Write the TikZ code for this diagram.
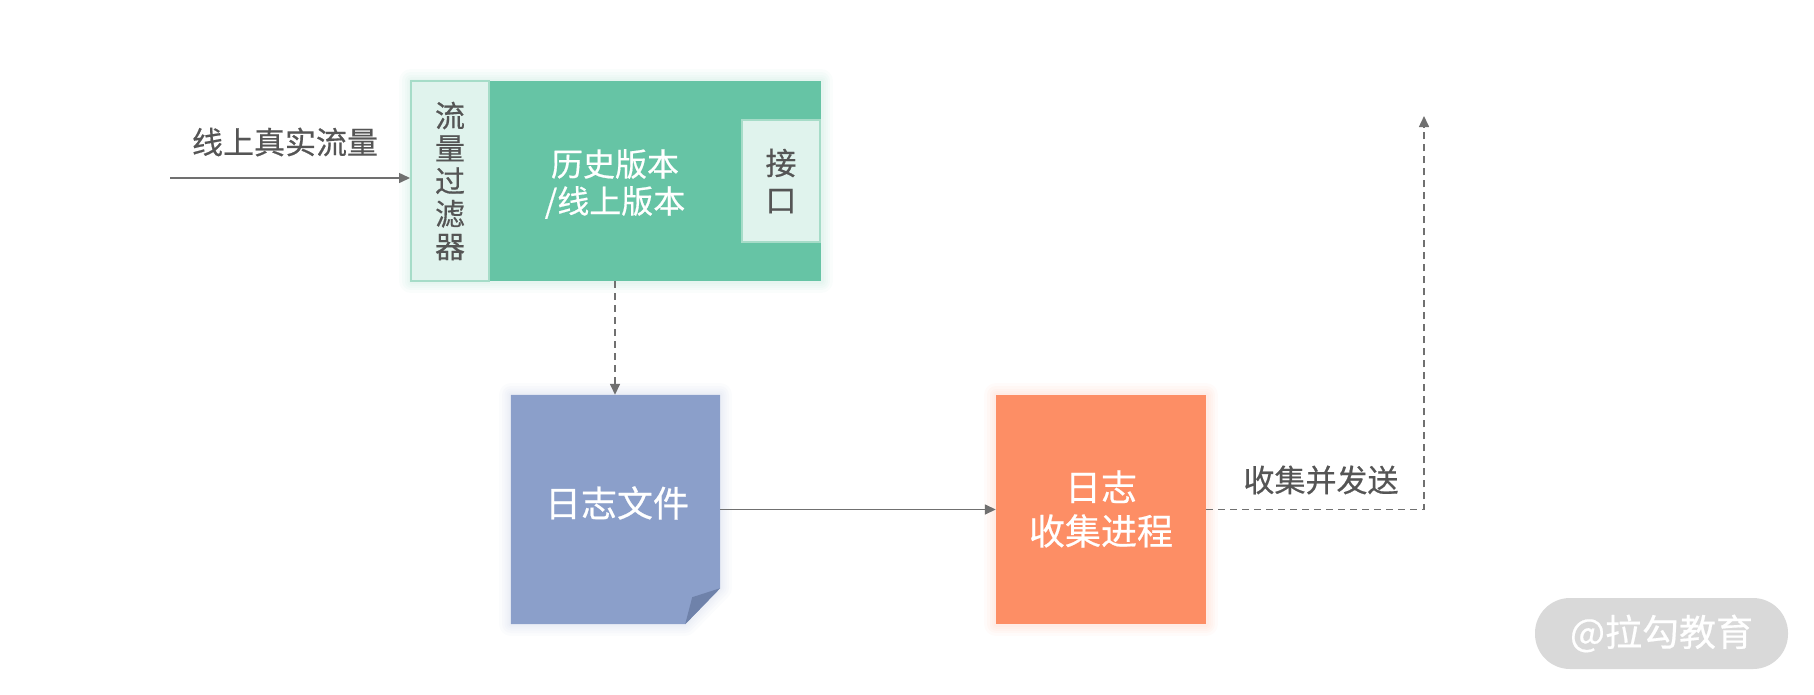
\documentclass[tikz,border=0pt]{standalone}
\usepackage{fontspec}
\setmainfont{Noto Sans CJK SC}[FakeBold=0.5]
\usetikzlibrary{arrows.meta,calc}
\definecolor{gmain}{HTML}{66C4A5}
\definecolor{gpale}{HTML}{E0F3ED}
\definecolor{gline}{HTML}{A6DCC8}
\definecolor{dblue}{HTML}{8B9FCA}
\definecolor{dfold}{HTML}{6F82AA}
\definecolor{orng}{HTML}{FD8E65}
\definecolor{txtgray}{HTML}{555555}
\definecolor{lngray}{HTML}{707070}
\definecolor{wmgray}{HTML}{D9D9D9}
\tikzset{
  lbl/.style={text=txtgray, font=\fontsize{31}{36}\selectfont, inner sep=0pt},
  wtxt/.style={text=white, align=center, inner sep=0pt},
  palebox/.style={fill=gpale, draw=gline, line width=2pt, text=txtgray, align=center, inner sep=0pt},
  conn/.style={draw=lngray, line width=1.5pt, -{Triangle[length=11pt,width=10pt]}},
  dconn/.style={conn, dash pattern=on 7pt off 5pt},
  glow/.style={line join=round, draw=#1, draw opacity=0.035},
}
\begin{document}
\begin{tikzpicture}[x=1pt,y=-1pt]
\useasboundingbox (0,0) rectangle (1814,694);
% soft glows
\foreach \w in {24,18,13,9,5}{
  \draw[glow=gmain, line width=\w pt] (411,81) rectangle (821,281);
  \draw[glow=dblue, line width=\w pt] (511,395) -- (720,395) -- (720,588) -- (685,624) -- (511,624) -- cycle;
  \draw[glow=orng, line width=\w pt] (996,395) rectangle (1206,624);
}
% green main block
\node[fill=gmain, minimum width=332pt, minimum height=200pt, inner sep=0pt] (core) at (655,181) {};
\node[palebox, minimum width=78pt, minimum height=200pt, font=\fontsize{30}{32.7}\selectfont] (filter) at (450,181) {流\\量\\过\\滤\\器};
\node[palebox, minimum width=78pt, minimum height=122pt, font=\fontsize{31}{37}\selectfont] (api) at (781,181) {接\\口};
\node[wtxt, font=\fontsize{32}{37}\selectfont] (ver) at (615,184) {历史版本\\/线上版本};
% input
\coordinate (in) at (170,178);
\node[lbl] (inlbl) at (285,142) {线上真实流量};
\draw[conn] (in) -- (in -| filter.west);
% log file
\node[minimum width=209pt, minimum height=229pt, inner sep=0pt] (doc) at (615.5,509.5) {};
\fill[dblue] (doc.north west) -- (doc.north east) -- ($(doc.south east)+(0,-36)$) -- ($(doc.south east)+(-35,0)$) -- (doc.south west) -- cycle;
\fill[dfold] ($(doc.south east)+(-35,0)$) -- ($(doc.south east)+(-28,-27)$) -- ($(doc.south east)+(0,-36)$) -- cycle;
\node[wtxt, font=\fontsize{36}{42}\selectfont] (doctxt) at (617,503) {日志文件};
\draw[dconn] (ver |- core.south) -- (ver |- doc.north);
% collector
\node[fill=orng, minimum width=210pt, minimum height=229pt, inner sep=0pt] (coll) at (1101,509.5) {};
\node[wtxt, font=\fontsize{36}{44}\selectfont] (colltxt) at (1101,509) {日志\\收集进程};
\draw[conn] (doc.east |- coll.west) -- (coll.west);
% send
\coordinate (up) at (1424,116);
\draw[dconn] (coll.east) -- (coll.east -| up) -- (up);
\node[lbl] (sendlbl) at (1321,480) {收集并发送};
% watermark
\node[fill=wmgray, rounded corners=35pt, minimum width=253pt, minimum height=71pt, text=white, font=\fontsize{37}{40}\selectfont] (wm) at (1661.5,633.5) {@拉勾教育};
\end{tikzpicture}
\end{document}
